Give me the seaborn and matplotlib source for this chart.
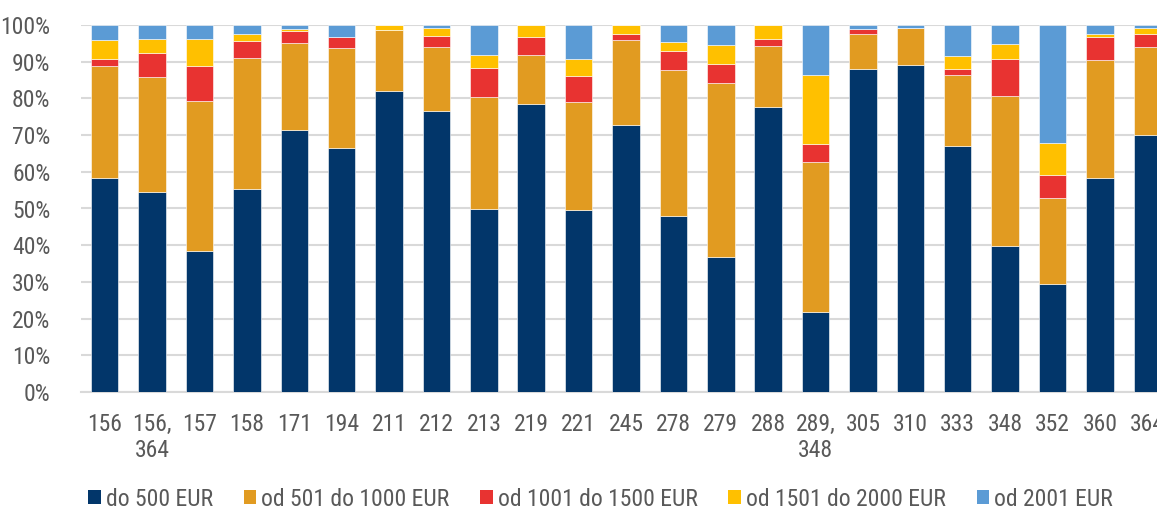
import matplotlib
matplotlib.use("Agg")
import matplotlib.pyplot as plt
from matplotlib import font_manager as fm
import seaborn as sns
import numpy as np
import pandas as pd
from matplotlib.patches import Patch

categories = ["156", "156,\n364", "157", "158", "171", "194", "211", "212", "213", "219",
              "221", "245", "278", "279", "288", "289,\n348", "305", "310", "333", "348",
              "352", "360", "364"]

do_500 = [58.2, 54.4, 38.5, 55.4, 71.5, 66.6, 82.0, 76.5, 49.8, 78.5, 49.5, 72.8,
          47.9, 36.7, 77.7, 21.9, 88.1, 89.2, 66.9, 39.7, 29.5, 58.2, 70.1]
od_501_1000 = [30.7, 31.4, 40.9, 35.7, 23.6, 27.0, 16.7, 17.5, 30.5, 13.3, 29.5, 23.1,
               39.8, 47.5, 16.7, 40.8, 9.5, 10.1, 19.6, 40.9, 23.4, 32.2, 23.9]
od_1001_1500 = [1.7, 6.5, 9.5, 4.6, 3.4, 3.2, 0.0, 3.1, 8.1, 4.8, 7.2, 1.6,
                5.3, 5.1, 1.8, 5.0, 1.4, 0.0, 1.6, 10.0, 6.3, 6.4, 3.6]
od_1501_2000 = [5.2, 3.9, 7.3, 1.8, 0.5, 0.0, 1.3, 2.1, 3.4, 3.4, 4.5, 2.5,
                2.3, 5.3, 3.8, 18.6, 0.0, 0.0, 3.5, 4.3, 8.6, 0.7, 1.6]
od_2001 = [4.2, 3.8, 3.8, 2.5, 1.0, 3.2, 0.0, 0.8, 8.2, 0.0, 9.3, 0.0,
           4.7, 5.4, 0.0, 13.7, 1.0, 0.7, 8.4, 5.1, 32.2, 2.5, 0.8]

series_names = ["do 500 EUR", "od 501 do 1000 EUR", "od 1001 do 1500 EUR",
                "od 1501 do 2000 EUR", "od 2001 EUR"]
series_values = [do_500, od_501_1000, od_1001_1500, od_1501_2000, od_2001]
colors = ["#02366A", "#E19B21", "#E83331", "#FFC000", "#5B9BD5"]

sns.set_theme(style="white")
available = set(f.name for f in fm.fontManager.ttflist)
font_choice = "DejaVu Sans"
for cand in ["Liberation Sans Narrow", "Arial Narrow", "Roboto Condensed", "Archivo Narrow",
             "PT Sans Narrow", "Liberation Sans"]:
    if cand in available:
        font_choice = cand
        break
plt.rcParams['font.family'] = [font_choice, 'DejaVu Sans']
text_color = "#595959"
fs = 17

fig = plt.figure(figsize=(11.57, 5.11), dpi=100)
W, H = 1157, 511
left_px, right_px = 81, 1171
top_px, bottom_px = 25, 392
ax = fig.add_axes([left_px / W, (H - bottom_px) / H, (right_px - left_px) / W, (bottom_px - top_px) / H])

bottom = np.zeros(len(categories))
for name, vals, col in zip(series_names, series_values, colors):
    df = pd.DataFrame({"cat": categories, "val": vals})
    sns.barplot(data=df, x="cat", y="val", order=categories, bottom=bottom, color=col,
                width=0.58, saturation=1, edgecolor="#ffffff", linewidth=0.4, ax=ax, zorder=3)
    bottom = bottom + np.array(vals)

ax.set_xlim(-0.5, len(categories) - 0.5)
ax.set_ylim(0, 100)
ax.set_yticks(np.arange(0, 101, 10))
ax.set_yticklabels([f"{v}%" for v in range(0, 101, 10)])
ax.yaxis.grid(True, color="#D9D9D9", linewidth=1.5, zorder=0)
ax.set_axisbelow(True)
for s in ["top", "right", "left"]:
    ax.spines[s].set_visible(False)
ax.spines["bottom"].set_color("#D9D9D9")
ax.spines["bottom"].set_linewidth(1.5)
ax.set_xlabel("")
ax.set_ylabel("")
ax.tick_params(axis="y", length=0, pad=22, labelsize=fs, labelcolor=text_color)
ax.tick_params(axis="x", length=0, pad=15, labelsize=fs, labelcolor=text_color)
for lbl in ax.get_xticklabels():
    lbl.set_linespacing(1.2)
    lbl.set_verticalalignment("top")

handles = [Patch(facecolor=c, edgecolor="none") for c in colors]
leg = fig.legend(handles, series_names, loc="center left", bbox_to_anchor=(88 / W, 1 - 499 / H),
                 ncol=5, frameon=False, fontsize=fs, handlelength=0.53, handleheight=0.53,
                 handletextpad=0.22, columnspacing=1.3, borderaxespad=0, borderpad=0)
for t in leg.get_texts():
    t.set_color(text_color)

fig.savefig("out.png", dpi=100)
